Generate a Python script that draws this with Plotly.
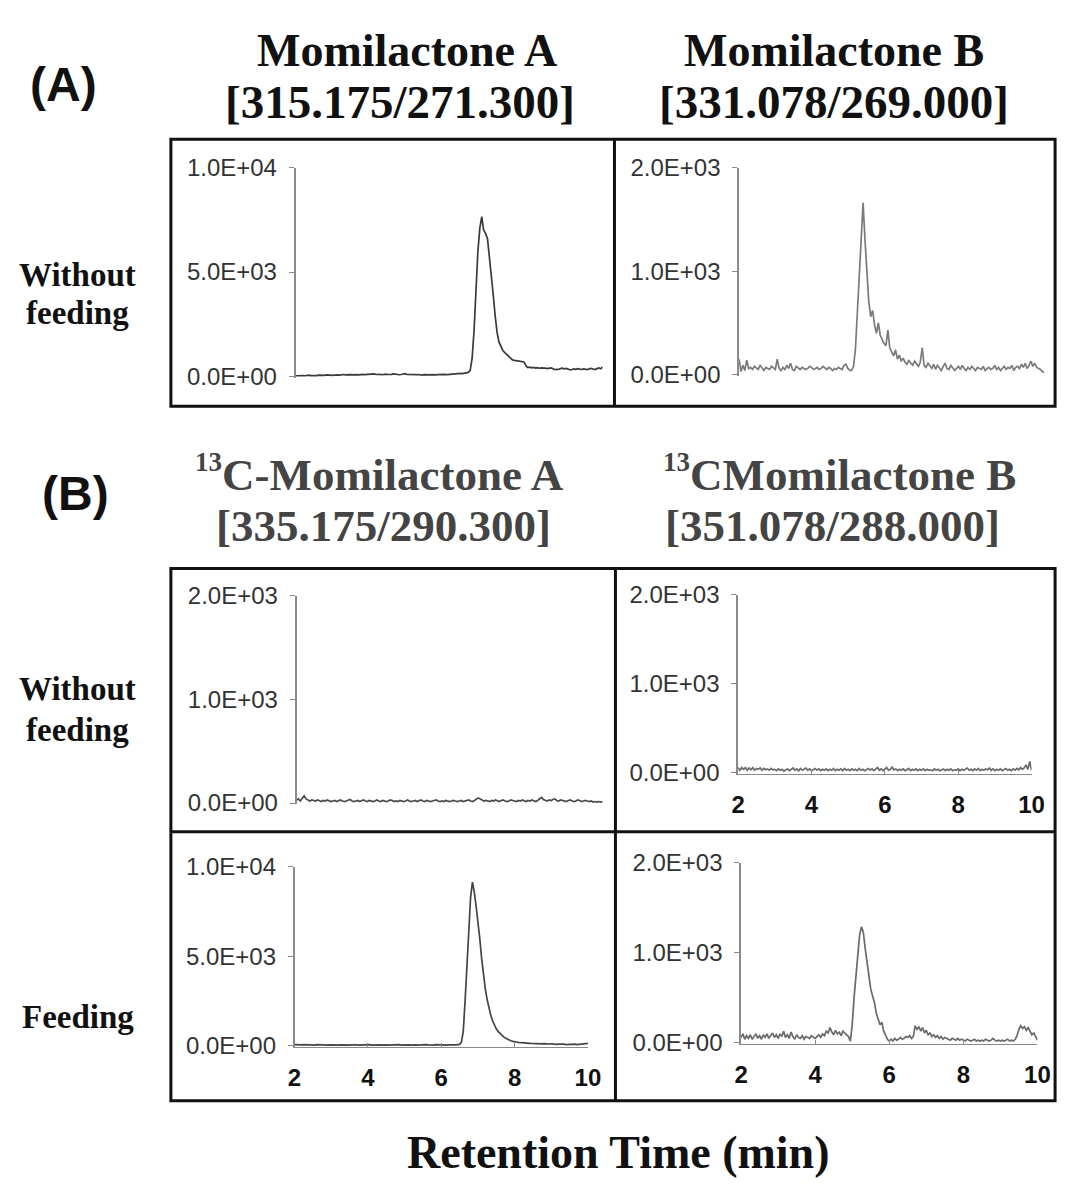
import plotly.graph_objects as go

W, H = 1073, 1187

# Retention-time sampling grid: 0.05 min steps from 2 to 10 min (161 scans)
time_min = [round(2 + 0.05 * i, 2) for i in range(161)]

# Momilactone A [315.175/271.300], without feeding (counts)
ma_without = [
    40, 50, 40, 60, 50, 40, 60, 70, 50, 40, 60, 50, 70, 60, 50, 60, 80, 60, 70, 60,
    70, 90, 80, 70, 90, 100, 80, 90, 110, 90, 80, 100, 90, 80, 100, 110, 90, 100, 120, 100,
    110, 130, 100, 120, 110, 90, 110, 120, 100, 90, 110, 130, 110, 100, 90, 100, 120, 140, 110, 100,
    90, 100, 80, 90, 100, 80, 70, 90, 80, 70, 80, 90, 70, 80, 90, 100, 80, 90, 110, 90,
    100, 120, 110, 130, 120, 140, 150, 140, 150, 170, 200, 300, 900, 2200, 4200, 6000, 7100, 7650, 7000, 6850,
    6600, 5800, 4900, 3900, 2900, 2100, 1650, 1400, 1250, 1150, 1050, 950, 850, 800, 780, 760, 750, 730, 720, 700,
    520, 430, 450, 420, 440, 410, 430, 400, 420, 430, 410, 380, 400, 420, 390, 330, 350, 340, 380, 400,
    370, 390, 360, 320, 340, 370, 350, 380, 360, 340, 370, 350, 330, 370, 390, 360, 340, 380, 410, 370, 460,
]

# Momilactone B [331.078/269.000], without feeding
mb_without = [
    150, 30, 90, 40, 140, 60, 70, 50, 80, 60, 50, 90, 60, 40, 70, 60, 50, 80, 60, 50,
    150, 60, 40, 70, 50, 90, 60, 110, 50, 40, 80, 60, 50, 70, 60, 50, 60, 80, 70, 50,
    60, 70, 50, 60, 80, 60, 50, 70, 60, 40, 60, 50, 70, 60, 50, 90, 100, 60, 40, 40,
    80, 250, 600, 1000, 1350, 1660, 1300, 950, 700, 560, 620, 480, 400, 500, 380, 340, 300, 280, 430, 260,
    220, 180, 240, 150, 190, 130, 160, 120, 100, 140, 110, 90, 130, 100, 80, 120, 260, 90, 70, 110,
    80, 60, 100, 50, 90, 70, 40, 80, 110, 60, 50, 90, 70, 40, 60, 80, 50, 90, 60, 40,
    70, 50, 80, 60, 40, 70, 60, 50, 80, 40, 60, 70, 50, 60, 90, 50, 70, 40, 60, 80,
    50, 70, 60, 90, 40, 70, 80, 60, 100, 70, 110, 60, 90, 130, 80, 110, 70, 60, 50, 30, 20,
]

# 13C-Momilactone A [335.175/290.300], without feeding
c13_ma_without = [
    30, 40, 20, 50, 70, 40, 30, 20, 30, 25, 20, 30, 20, 15, 25, 20, 30, 20, 15, 20,
    25, 15, 20, 30, 20, 15, 20, 25, 35, 20, 15, 20, 25, 15, 20, 30, 20, 15, 25, 20,
    15, 20, 30, 20, 15, 25, 20, 15, 20, 30, 25, 15, 20, 15, 25, 20, 15, 20, 30, 20,
    15, 20, 25, 15, 20, 30, 20, 15, 25, 20, 15, 20, 25, 30, 20, 15, 20, 15, 25, 20,
    15, 20, 25, 20, 15, 20, 25, 15, 20, 25, 30, 20, 15, 25, 35, 50, 40, 30, 20, 25,
    20, 15, 25, 20, 30, 20, 15, 25, 30, 20, 15, 20, 30, 25, 20, 15, 25, 20, 30, 20,
    15, 25, 20, 30, 20, 15, 25, 40, 55, 35, 25, 20, 30, 25, 35, 40, 25, 20, 30, 25,
    20, 15, 25, 30, 20, 15, 20, 30, 25, 15, 20, 25, 20, 15, 20, 10, 15, 10, 15, 10, 15,
]

# 13C-Momilactone B [351.078/288.000], without feeding
c13_mb_without = [
    60, 30, 60, 40, 60, 30, 55, 35, 60, 30, 50, 40, 55, 30, 50, 35, 45, 30, 50, 35,
    40, 25, 45, 30, 40, 20, 35, 45, 25, 40, 55, 30, 45, 25, 50, 30, 45, 55, 30, 45,
    25, 40, 50, 30, 45, 25, 40, 30, 45, 25, 40, 30, 50, 25, 40, 30, 45, 25, 50, 30,
    40, 25, 45, 30, 40, 25, 50, 30, 40, 25, 35, 50, 30, 45, 25, 40, 60, 30, 45, 25,
    45, 60, 30, 40, 65, 35, 45, 25, 40, 30, 45, 25, 35, 50, 25, 40, 30, 45, 25, 40,
    30, 45, 25, 40, 30, 35, 25, 45, 30, 40, 25, 35, 45, 25, 40, 30, 45, 25, 35, 30,
    45, 25, 40, 30, 45, 55, 30, 40, 25, 45, 30, 50, 25, 40, 30, 45, 35, 55, 30, 45,
    25, 40, 30, 45, 25, 35, 50, 30, 40, 25, 45, 30, 50, 35, 60, 40, 55, 90, 40, 130, 30,
]

# 13C-Momilactone A, feeding
c13_ma_feeding = [
    60, 50, 60, 40, 50, 60, 50, 40, 50, 60, 50, 40, 60, 50, 40, 50, 60, 50, 40, 50,
    40, 50, 60, 50, 40, 50, 40, 50, 60, 50, 40, 50, 60, 40, 50, 40, 50, 60, 50, 40,
    50, 60, 40, 50, 60, 50, 40, 50, 40, 60, 50, 40, 50, 60, 50, 40, 50, 60, 40, 50,
    60, 50, 40, 50, 40, 60, 50, 40, 50, 60, 40, 50, 60, 50, 40, 50, 40, 60, 50, 40,
    50, 40, 50, 40, 50, 40, 50, 40, 50, 60, 80, 200, 800, 2500, 4700, 6800, 8300, 9150, 8600, 7800,
    7000, 6000, 4900, 4000, 3200, 2600, 2100, 1700, 1400, 1150, 950, 800, 680, 580, 500, 430, 370, 320, 280, 250,
    220, 200, 190, 170, 180, 160, 150, 160, 140, 130, 120, 130, 110, 120, 100, 110, 120, 100, 90, 100,
    110, 90, 100, 80, 90, 100, 80, 90, 70, 80, 90, 70, 80, 90, 70, 80, 90, 100, 110, 120, 130,
]

# 13C-Momilactone B, feeding
c13_mb_feeding = [
    60, 100, 40, 80, 50, 90, 40, 70, 100, 50, 80, 40, 90, 60, 100, 50, 80, 110, 60, 90,
    50, 100, 70, 130, 60, 90, 50, 120, 70, 40, 90, 60, 50, 80, 40, 70, 60, 50, 80, 60,
    50, 70, 90, 60, 100, 80, 130, 110, 170, 120, 90, 140, 100, 120, 80, 130, 110, 90, 70, 20,
    200, 500, 750, 1000, 1200, 1290, 1230, 1050, 900, 750, 600, 520, 450, 330, 260, 200, 230, 130, 90, 40,
    20, 40, 20, 50, 30, 40, 60, 40, 50, 70, 60, 80, 50, 70, 190, 150, 180, 130, 170, 110,
    140, 90, 110, 70, 90, 60, 80, 50, 70, 40, 60, 50, 40, 30, 50, 40, 30, 50, 30, 40,
    30, 20, 40, 30, 20, 30, 40, 20, 30, 20, 30, 20, 40, 30, 20, 30, 50, 30, 20, 30,
    20, 30, 20, 30, 40, 20, 30, 20, 40, 80, 150, 190, 160, 180, 140, 170, 120, 90, 110, 60, 30,
]

# Axis tick values / labels
x_ticks = [2, 4, 6, 8, 10]
y_ticks_1e4 = [0, 5000, 10000]
y_labels_1e4 = ["0.0E+00", "5.0E+03", "1.0E+04"]
y_ticks_2e3 = [0, 1000, 2000]
y_labels_2e3 = ["0.0E+00", "1.0E+03", "2.0E+03"]

SANS = "Liberation Sans, Arial, sans-serif"
SERIF = "Liberation Serif, Times New Roman, serif"


def fx(x):
    """pixel column -> paper x"""
    return x / W


def fy(y):
    """pixel row -> paper y"""
    return 1 - y / H


# panel layout: (series, line colour, x-domain px, y-domain px, y scale, show x labels, show x line)
panels = [
    (ma_without, "#3a3a3a", (294, 607), (157, 372), "1e4", False, False),
    (mb_without, "#7a7a7a", (746, 1057), (157, 370), "2e3", False, False),
    (c13_ma_without, "#4a4a4a", (295, 607), (595, 808), "2e3", False, False),
    (c13_mb_without, "#6a6a6a", (745, 1044), (594, 777), "2e3", True, True),
    (c13_ma_feeding, "#444444", (293, 592), (872, 1056), "1e4", True, True),
    (c13_mb_feeding, "#6a6a6a", (748, 1050), (868, 1053), "2e3", True, True),
]

fig = go.Figure()
layout = {}
for k, (vals, col, xd, yd, scale, xlab, xline) in enumerate(panels, start=1):
    sfx = "" if k == 1 else str(k)
    fig.add_trace(go.Scatter(
        x=time_min, y=vals, mode="lines",
        line=dict(color=col, width=1.7),
        xaxis="x" + sfx, yaxis="y" + sfx, showlegend=False, hoverinfo="skip",
    ))
    top = 10000 if scale == "1e4" else 2000
    tv = y_ticks_1e4 if scale == "1e4" else y_ticks_2e3
    tt = y_labels_1e4 if scale == "1e4" else y_labels_2e3
    layout["xaxis" + sfx] = dict(
        domain=[fx(xd[0]), fx(xd[1])], range=[2, 10], anchor="y" + sfx,
        showgrid=False, zeroline=False,
        showline=xline, linecolor="#8a8a8a", linewidth=1.3,
        ticks="inside" if xline else "", ticklen=4, tickcolor="#8a8a8a",
        tickvals=x_ticks, showticklabels=xlab,
        tickfont=dict(family=SANS, size=24, color="#111111", weight=700),
        ticklabelstandoff=9,
    )
    layout["yaxis" + sfx] = dict(
        domain=[fy(yd[1]), fy(yd[0])], range=[-0.006 * top, top], anchor="x" + sfx,
        showgrid=False, zeroline=False,
        showline=True, linecolor="#8a8a8a", linewidth=1.5,
        ticks="outside", ticklen=5, tickcolor="#8a8a8a",
        tickvals=tv, ticktext=tt,
        tickfont=dict(family=SANS, size=24, color="#333333"),
        ticklabelstandoff=7,
    )


# panel frames
def frame(x0, y0, x1, y1, w=3):
    return dict(type="rect", xref="paper", yref="paper",
                x0=fx(x0), x1=fx(x1), y0=fy(y1), y1=fy(y0),
                line=dict(color="#111111", width=w), fillcolor="rgba(0,0,0,0)")


def seg(x0, y0, x1, y1, w=3):
    return dict(type="line", xref="paper", yref="paper",
                x0=fx(x0), x1=fx(x1), y0=fy(y0), y1=fy(y1),
                line=dict(color="#111111", width=w))


shapes = [
    frame(167, 128, 1068, 401),
    seg(619, 128, 619, 401),
    frame(167, 567, 1068, 1111),
    seg(620, 567, 620, 1111),
    seg(167, 836, 1068, 836),
]


def label(text, x, y, size, color="#111111", family=SERIF):
    return dict(text=text, x=fx(x), y=fy(y), xref="paper", yref="paper",
                xanchor="center", yanchor="middle", showarrow=False,
                font=dict(family=family, size=size, color=color, weight=700))


SUP13 = "<sup><span style='font-size:27px'>13</span></sup>"

annotations = [
    label("(A)", 58, 72, 48, family=SANS),
    label("Momilactone A", 408, 37, 46),
    label("[315.175/271.300]", 400, 90, 47),
    label("Momilactone B", 843, 37, 46),
    label("[331.078/269.000]", 843, 90, 47),
    label("(B)", 70, 490, 48, family=SANS),
    label(SUP13 + "C-Momilactone A", 380, 470, 45, color="#444444"),
    label("[335.175/290.300]", 384, 523, 45, color="#444444"),
    label(SUP13 + "CMomilactone B", 848, 470, 45, color="#444444"),
    label("[351.078/288.000]", 841, 523, 45, color="#444444"),
    label("Without", 72, 267, 33),
    label("feeding", 72, 306, 33),
    label("Without", 72, 690, 33),
    label("feeding", 72, 732, 33),
    label("Feeding", 72, 1025, 33),
    label("Retention Time (min)", 623, 1164, 46),
]

fig.update_layout(
    width=W, height=H, margin=dict(l=0, r=0, t=0, b=0),
    paper_bgcolor="white", plot_bgcolor="white",
    shapes=shapes, annotations=annotations,
    **layout,
)

fig.write_html("out.html")
